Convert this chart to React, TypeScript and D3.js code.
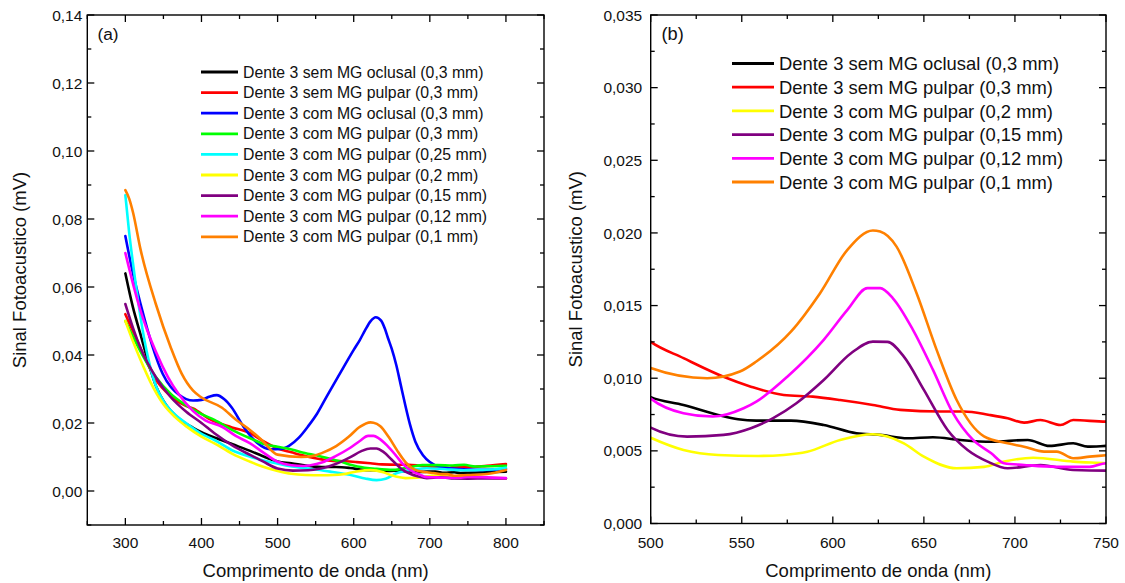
import React from 'react';
import * as d3 from 'd3';

type Pt = [number, number];

// Photoacoustic signal (mV) versus wavelength (nm)
const semOclusal03: Pt[] = [
  [300, 0.064], [310, 0.054], [320, 0.046], [330, 0.038], [340, 0.031], [350, 0.0265], [360, 0.0235],
  [375, 0.0205], [389, 0.0186], [400, 0.0173], [420, 0.0155], [440, 0.0138], [464, 0.0118], [480, 0.0103],
  [500, 0.0087], [518, 0.00816], [537, 0.00747], [548, 0.00717], [558, 0.00708], [577, 0.00708], [595, 0.00678],
  [613, 0.00621], [626, 0.0061], [641, 0.00587], [655, 0.00594], [670, 0.00575], [687, 0.00563], [707, 0.00575],
  [719, 0.00534], [732, 0.00552], [740, 0.00529], [750, 0.00534], [775, 0.0055], [800, 0.0057],
];

const semPulpar03: Pt[] = [
  [300, 0.052], [310, 0.047], [320, 0.042], [338, 0.0335], [360, 0.0278], [380, 0.025], [389, 0.0243],
  [410, 0.0212], [440, 0.0187], [464, 0.017], [480, 0.0148], [500, 0.0125], [518, 0.01138], [540, 0.0101],
  [555, 0.00942], [573, 0.00885], [589, 0.00873], [604, 0.0085], [622, 0.00816], [637, 0.00782], [659, 0.00771],
  [672, 0.00771], [686, 0.00747], [696, 0.00724], [705, 0.00694], [714, 0.00712], [725, 0.00678], [732, 0.00712],
  [750, 0.00701], [775, 0.0074], [800, 0.0079],
];

const comOclusal03: Pt[] = [
  [300, 0.075], [310, 0.064], [320, 0.055], [335, 0.043], [349, 0.0345], [360, 0.0305], [370, 0.0284],
  [389, 0.0266], [400, 0.0268], [410, 0.0277], [420, 0.0282], [430, 0.027], [440, 0.0245], [455, 0.019],
  [473, 0.0142], [490, 0.0123], [505, 0.0124], [515, 0.0133], [528, 0.0157], [540, 0.019], [552, 0.0228],
  [565, 0.028], [582, 0.0346], [600, 0.0415], [608, 0.0444], [615, 0.0473], [622, 0.0499], [629, 0.0511],
  [636, 0.0501], [641, 0.0477], [645, 0.0450], [650, 0.0418], [656, 0.0370], [662, 0.0310], [668, 0.0250],
  [674, 0.0195], [681, 0.0145], [691, 0.0105], [700, 0.0085], [713, 0.0071], [730, 0.0066], [750, 0.0063],
  [770, 0.0062], [785, 0.0063], [800, 0.0065],
];

const comPulpar03: Pt[] = [
  [300, 0.050], [320, 0.041], [340, 0.0335], [360, 0.0285], [380, 0.0252], [400, 0.0226], [417, 0.0209],
  [440, 0.018], [464, 0.0155], [480, 0.014], [500, 0.013], [511, 0.0126], [530, 0.0115], [558, 0.0101],
  [580, 0.0088], [605, 0.0072], [630, 0.0065], [652, 0.0062], [670, 0.0068], [690, 0.0076], [710, 0.0076],
  [730, 0.0075], [745, 0.0077], [760, 0.0072], [780, 0.0073], [800, 0.0074],
];

const comPulpar025: Pt[] = [
  [300, 0.087], [305, 0.076], [310, 0.067], [320, 0.051], [330, 0.039], [340, 0.031], [350, 0.0265],
  [365, 0.0225], [380, 0.0199], [400, 0.0168], [417, 0.015], [440, 0.012], [464, 0.0101], [490, 0.0085],
  [511, 0.0075], [540, 0.0066], [569, 0.0057], [600, 0.0045], [615, 0.0037], [630, 0.0032], [642, 0.0036],
  [656, 0.0052], [675, 0.0062], [696, 0.0067], [720, 0.0064], [745, 0.0061], [766, 0.0062], [785, 0.0064],
  [800, 0.0068],
];

const comPulpar02: Pt[] = [
  [300, 0.050], [310, 0.044], [320, 0.0385], [333, 0.032], [350, 0.0255], [365, 0.0218], [380, 0.019],
  [400, 0.016], [417, 0.014], [440, 0.011], [464, 0.0086], [480, 0.0072], [500, 0.0059], [518, 0.00506],
  [537, 0.00472], [559, 0.00465], [573, 0.00472], [586, 0.00494], [604, 0.00575], [622, 0.00614], [639, 0.00552],
  [650, 0.0046], [668, 0.0038], [683, 0.0039], [694, 0.00426], [710, 0.00453], [732, 0.00426], [750, 0.00415],
  [775, 0.0039], [800, 0.0037],
];

const comPulpar015: Pt[] = [
  [300, 0.055], [310, 0.048], [320, 0.042], [340, 0.0335], [360, 0.0275], [380, 0.0233], [400, 0.020],
  [417, 0.017], [440, 0.0135], [464, 0.0106], [480, 0.0088], [500, 0.0066], [520, 0.00598], [540, 0.0061],
  [555, 0.00656], [567, 0.00724], [580, 0.00828], [595, 0.00988], [610, 0.01172], [622, 0.01252], [630, 0.0125],
  [639, 0.01149], [650, 0.0092], [663, 0.00644], [674, 0.00506], [685, 0.00426], [696, 0.0038], [714, 0.00403],
  [732, 0.00368], [750, 0.00364], [775, 0.0037], [800, 0.0037],
];

const comPulpar012: Pt[] = [
  [300, 0.070], [310, 0.061], [320, 0.053], [340, 0.041], [356, 0.0335], [370, 0.0285], [389, 0.0235],
  [405, 0.0208], [427, 0.0189], [445, 0.0162], [464, 0.014], [480, 0.0115], [500, 0.0086], [518, 0.00759],
  [534, 0.00736], [551, 0.00793], [558, 0.00839], [575, 0.0101], [595, 0.01264], [608, 0.0147], [619, 0.0162],
  [626, 0.0162], [633, 0.0155], [644, 0.01333], [655, 0.01057], [666, 0.00759], [677, 0.00575], [687, 0.00483],
  [694, 0.00415], [705, 0.00403], [723, 0.0039], [741, 0.0039], [750, 0.00415], [775, 0.004], [800, 0.0038],
];

const comPulpar01: Pt[] = [
  [300, 0.0885], [305, 0.086], [310, 0.082], [320, 0.071], [340, 0.055], [360, 0.042], [374, 0.0345],
  [389, 0.0295], [400, 0.0275], [427, 0.0245], [445, 0.021], [464, 0.0179], [480, 0.0148], [500, 0.0107],
  [531, 0.0100], [549, 0.01046], [558, 0.01115], [577, 0.0132], [593, 0.01585], [608, 0.01884], [622, 0.02017],
  [626, 0.0201], [635, 0.01906], [646, 0.01585], [657, 0.01195], [668, 0.0085], [683, 0.0060], [696, 0.00552],
  [705, 0.00529], [716, 0.00495], [723, 0.00495], [732, 0.00449], [741, 0.0046], [750, 0.0047], [775, 0.005],
  [800, 0.0062],
];

type Series = { label: string; color: string; data: Pt[] };

const sBlack: Series = { label: 'Dente 3 sem MG oclusal (0,3 mm)', color: '#000000', data: semOclusal03 };
const sRed: Series = { label: 'Dente 3 sem MG pulpar (0,3 mm)', color: '#ff0000', data: semPulpar03 };
const sBlue: Series = { label: 'Dente 3 com MG oclusal (0,3 mm)', color: '#0000ff', data: comOclusal03 };
const sGreen: Series = { label: 'Dente 3 com MG pulpar (0,3 mm)', color: '#00ff00', data: comPulpar03 };
const sCyan: Series = { label: 'Dente 3 com MG pulpar (0,25 mm)', color: '#00ffff', data: comPulpar025 };
const sYellow: Series = { label: 'Dente 3 com MG pulpar (0,2 mm)', color: '#ffff00', data: comPulpar02 };
const sPurple: Series = { label: 'Dente 3 com MG pulpar (0,15 mm)', color: '#800080', data: comPulpar015 };
const sMagenta: Series = { label: 'Dente 3 com MG pulpar (0,12 mm)', color: '#ff00ff', data: comPulpar012 };
const sOrange: Series = { label: 'Dente 3 com MG pulpar (0,1 mm)', color: '#ff8000', data: comPulpar01 };

const seriesA: Series[] = [sBlack, sRed, sBlue, sGreen, sCyan, sYellow, sPurple, sMagenta, sOrange];
const seriesB: Series[] = [sBlack, sRed, sYellow, sPurple, sMagenta, sOrange];

// Axis ticks
const xMajorA = [300, 400, 500, 600, 700, 800];
const xMinorA = [250, 350, 450, 550, 650, 750, 850];
const yMajorA = [0, 0.02, 0.04, 0.06, 0.08, 0.1, 0.12, 0.14];
const yMinorA = [-0.01, 0.01, 0.03, 0.05, 0.07, 0.09, 0.11, 0.13];

const xMajorB = [500, 550, 600, 650, 700, 750];
const xMinorB = [525, 575, 625, 675, 725];
const yMajorB = [0, 0.005, 0.01, 0.015, 0.02, 0.025, 0.03, 0.035];
const yMinorB = [0.0025, 0.0075, 0.0125, 0.0175, 0.0225, 0.0275, 0.0325];

const FONT = '"Liberation Sans", Arial, Helvetica, sans-serif';

type PanelProps = {
  id: string;
  tag: string;
  left: number; right: number; top: number; bottom: number;
  xDomain: [number, number]; yDomain: [number, number];
  xMajor: number[]; xMinor: number[]; yMajor: number[]; yMinor: number[];
  yDigits: number;
  series: Series[];
  legendX: number; legendY: number; legendGap: number; legendFont: number; legendLine: number;
  yLabelGap: number; yTitleX: number;
  tagX: number; tagSize: number;
};

const fmt = (v: number, digits: number) => d3.format(`.${digits}f`)(v).replace('.', ',');

function Panel(p: PanelProps) {
  const x = d3.scaleLinear().domain(p.xDomain).range([p.left, p.right]);
  const y = d3.scaleLinear().domain(p.yDomain).range([p.bottom, p.top]);
  const line = d3.line<Pt>().x(d => x(d[0])).y(d => y(d[1])).curve(d3.curveMonotoneX);
  const major = 7;
  const minor = 4;
  const axisColor = '#000';
  const cx = (p.left + p.right) / 2;
  const cy = (p.top + p.bottom) / 2;

  return (
    <g fontFamily={FONT}>
      <defs>
        <clipPath id={p.id}>
          <rect x={p.left} y={p.top} width={p.right - p.left} height={p.bottom - p.top} />
        </clipPath>
      </defs>
      <g clipPath={`url(#${p.id})`}>
        {p.series.map(s => (
          <path key={s.label} d={line(s.data) || ''} fill="none" stroke={s.color} strokeWidth={2.6}
            strokeLinejoin="round" strokeLinecap="round" />
        ))}
      </g>
      {/* frame */}
      <rect x={p.left} y={p.top} width={p.right - p.left} height={p.bottom - p.top}
        fill="none" stroke={axisColor} strokeWidth={1.4} />
      {/* x ticks, bottom and top, pointing inward */}
      {p.xMajor.map(v => (
        <g key={`xM${v}`}>
          <line x1={x(v)} x2={x(v)} y1={p.bottom} y2={p.bottom - major} stroke={axisColor} strokeWidth={1.3} />
          <line x1={x(v)} x2={x(v)} y1={p.top} y2={p.top + major} stroke={axisColor} strokeWidth={1.3} />
          <text x={x(v)} y={547.5} textAnchor="middle" fontSize={15.5} fill="#111">{v}</text>
        </g>
      ))}
      {p.xMinor.map(v => (
        <g key={`xm${v}`}>
          <line x1={x(v)} x2={x(v)} y1={p.bottom} y2={p.bottom - minor} stroke={axisColor} strokeWidth={1.3} />
          <line x1={x(v)} x2={x(v)} y1={p.top} y2={p.top + minor} stroke={axisColor} strokeWidth={1.3} />
        </g>
      ))}
      {/* y ticks, left and right, pointing inward */}
      {p.yMajor.map(v => (
        <g key={`yM${v}`}>
          <line x1={p.left} x2={p.left + major} y1={y(v)} y2={y(v)} stroke={axisColor} strokeWidth={1.3} />
          <line x1={p.right} x2={p.right - major} y1={y(v)} y2={y(v)} stroke={axisColor} strokeWidth={1.3} />
          <text x={p.left - p.yLabelGap} y={y(v)} dy="0.36em" textAnchor="end" fontSize={15.5} fill="#111">
            {fmt(v, p.yDigits)}
          </text>
        </g>
      ))}
      {p.yMinor.map(v => (
        <g key={`ym${v}`}>
          <line x1={p.left} x2={p.left + minor} y1={y(v)} y2={y(v)} stroke={axisColor} strokeWidth={1.3} />
          <line x1={p.right} x2={p.right - minor} y1={y(v)} y2={y(v)} stroke={axisColor} strokeWidth={1.3} />
        </g>
      ))}
      {/* axis titles */}
      <text x={cx} y={577} textAnchor="middle" fontSize={18.5} fill="#111">Comprimento de onda (nm)</text>
      <text transform={`translate(${p.yTitleX},${cy}) rotate(-90)`} textAnchor="middle" fontSize={18.5} fill="#111">
        Sinal Fotoacustico (mV)
      </text>
      {/* panel tag */}
      <text x={p.tagX} y={40} fontSize={p.tagSize} fill="#111">{p.tag}</text>
      {/* legend */}
      {p.series.map((s, i) => {
        const ly = p.legendY + i * p.legendGap;
        return (
          <g key={`lg${s.label}`}>
            <line x1={p.legendX} x2={p.legendX + p.legendLine} y1={ly} y2={ly} stroke={s.color} strokeWidth={2.8} />
            <text x={p.legendX + p.legendLine + 5} y={ly} dy="0.36em" fontSize={p.legendFont} fill="#111">{s.label}</text>
          </g>
        );
      })}
    </g>
  );
}

export default function App() {
  return (
    <svg width={1125} height={583} viewBox="0 0 1125 583"
      style={{ position: 'absolute', left: 0, top: 0, background: '#fff' }}>
      <rect x={0} y={0} width={1125} height={583} fill="#fff" />
      <Panel id="clipA" tag="(a)" left={87.3} right={544} top={15} bottom={525}
        xDomain={[250, 850]} yDomain={[-0.01, 0.14]}
        xMajor={xMajorA} xMinor={xMinorA} yMajor={yMajorA} yMinor={yMinorA} yDigits={2}
        series={seriesA}
        legendX={201} legendY={72} legendGap={20.6} legendFont={15.8} legendLine={37}
        yLabelGap={5} yTitleX={26} tagX={97.5} tagSize={17.3} />
      <Panel id="clipB" tag="(b)" left={650.7} right={1106} top={15} bottom={523.5}
        xDomain={[500, 750]} yDomain={[0, 0.035]}
        xMajor={xMajorB} xMinor={xMinorB} yMajor={yMajorB} yMinor={yMinorB} yDigits={3}
        series={seriesB}
        legendX={732} legendY={63.5} legendGap={23.7} legendFont={18.4} legendLine={42}
        yLabelGap={8.5} yTitleX={582} tagX={661.5} tagSize={18.2} />
    </svg>
  );
}
